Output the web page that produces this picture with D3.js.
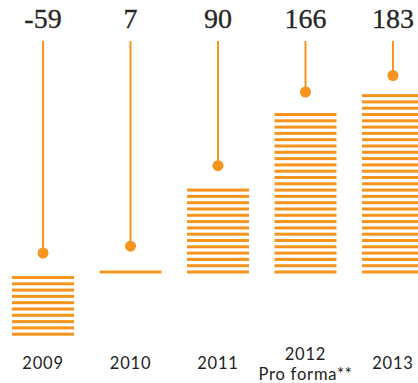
<!DOCTYPE html>
<html>
<head>
<meta charset="utf-8">
<script src="https://cdn.jsdelivr.net/npm/d3@7/dist/d3.min.js"></script>
<style>
  html, body { margin: 0; padding: 0; background: #fff; }
  svg { display: block; }
</style>
</head>
<body>
<svg id="chart" width="418" height="383"></svg>
<script>
// Annual result, striped bars with pin markers
const years = ["2009", "2010", "2011", "2012", "2013"];
const subLabels = ["", "", "", "Pro forma**", ""];
const values = [-59, 7, 90, 166, 183];
const valueLabels = ["-59", "7", "90", "166", "183"];

const orange = "#f7941d";
const svg = d3.select("#chart");

const x = d3.scaleBand()
  .domain(years)
  .range([12, 424])
  .paddingInner(0.291)
  .paddingOuter(0);

const y = d3.scaleLinear()
  .domain([0, 183])
  .range([274, 96.5]);

const period = 6.3, stripeH = 3;
const base = y(0);

const data = years.map((yr, i) => ({ yr, v: values[i], label: valueLabels[i], sub: subLabels[i] }));

// stripe positions per bar, derived from the scaled bar extent
function stripes(d) {
  const out = [];
  if (d.v >= 0) {
    const top = y(d.v);
    for (let s = base - 3.5; s >= top - 2.5; s -= period) out.push(s);
  } else {
    const bottom = y(d.v);
    for (let s = base + 2; s <= bottom + 2; s += period) out.push(s);
  }
  return out;
}

const g = svg.append("g");

const bars = g.selectAll("g.bar").data(data).join("g").attr("class", "bar");

bars.selectAll("rect")
  .data(d => stripes(d).map(s => ({ s, yr: d.yr })))
  .join("rect")
  .attr("x", d => x(d.yr))
  .attr("y", d => d.s)
  .attr("width", x.bandwidth())
  .attr("height", stripeH)
  .attr("fill", orange);

const cx = d => x(d.yr) + x.bandwidth() / 2;
const dotY = d => y(Math.max(d.v, 0)) - 21;

// pins
bars.append("line")
  .attr("x1", cx).attr("x2", cx)
  .attr("y1", 41).attr("y2", dotY)
  .attr("stroke", orange)
  .attr("stroke-width", 2);

bars.append("circle")
  .attr("cx", cx).attr("cy", dotY)
  .attr("r", 5.5)
  .attr("fill", orange);

// values on top
bars.append("text")
  .attr("x", cx).attr("y", 28)
  .attr("text-anchor", "middle")
  .attr("font-family", "'Liberation Serif', 'Times New Roman', serif")
  .attr("font-size", 28)
  .attr("fill", "#262626")
  .attr("stroke", "#262626")
  .attr("stroke-width", 0.3)
  .text(d => d.label);

// year labels
const labelFont = { family: "Lato, sans-serif", size: 16.5 };
bars.append("text")
  .attr("x", cx)
  .attr("y", d => d.sub ? 360 : 369)
  .attr("text-anchor", "middle")
  .attr("font-family", labelFont.family)
  .attr("font-size", labelFont.size)
  .attr("letter-spacing", 0.8)
  .attr("fill", "#222")
  .text(d => d.yr);

bars.filter(d => d.sub).append("text")
  .attr("x", cx)
  .attr("y", 380)
  .attr("text-anchor", "middle")
  .attr("font-family", labelFont.family)
  .attr("font-size", labelFont.size)
  .attr("letter-spacing", 0.8)
  .attr("fill", "#222")
  .text(d => d.sub);
</script>
</body>
</html>
